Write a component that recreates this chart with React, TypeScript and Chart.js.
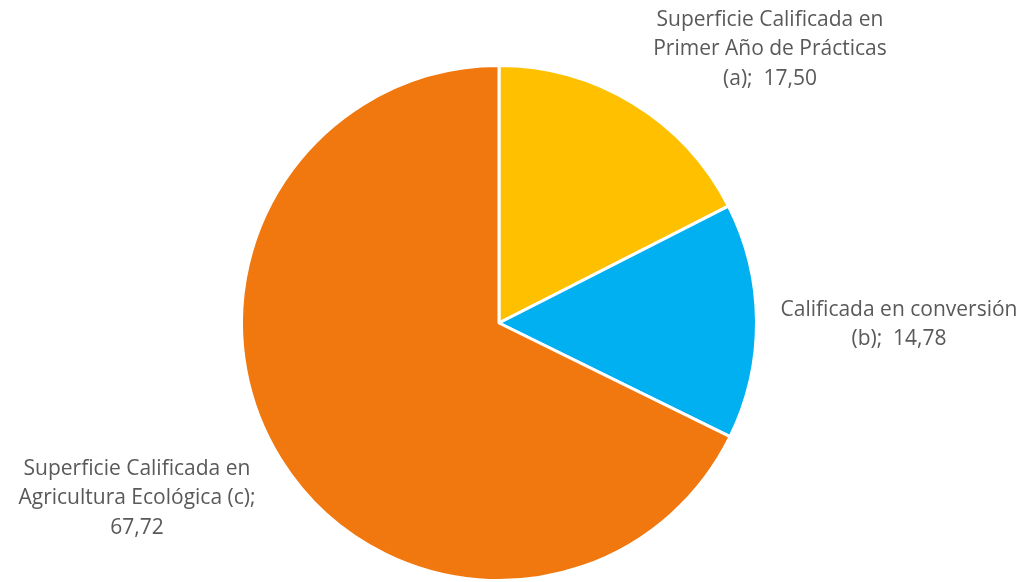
import React, { useEffect, useRef } from "react";
import { Chart, registerables } from "chart.js";

Chart.register(...registerables);

const categories = [
  "Superficie Calificada en Primer Año de Prácticas (a)",
  "Calificada en conversión (b)",
  "Superficie Calificada en Agricultura Ecológica (c)",
];
const values = [17.5, 14.78, 67.72];
const colors = ["#FFC000", "#00B0F0", "#F0780F"];
const labelLines = [
  ["Superficie Calificada en", "Primer Año de Prácticas", "(a);  17,50"],
  ["Calificada en conversión", "(b);  14,78"],
  ["Superficie Calificada en", "Agricultura Ecológica (c);", "67,72"],
];
// label anchor (center of first line) in canvas pixels
const labelAnchors = [
  { x: 770, y: 20 },
  { x: 899, y: 310 },
  { x: 137, y: 469 },
];

const labelPlugin = {
  id: "outerLabels",
  afterDraw(chart: any) {
    const ctx = chart.ctx;
    ctx.save();
    ctx.font = "21px 'Open Sans'";
    ctx.fillStyle = "#595959";
    ctx.textAlign = "center";
    ctx.textBaseline = "middle";
    labelLines.forEach((lines, i) => {
      const a = labelAnchors[i];
      lines.forEach((ln, j) => {
        ctx.fillText(ln, a.x, a.y + j * 29.5);
      });
    });
    ctx.restore();
  },
};

export default function App() {
  const ref = useRef<HTMLCanvasElement>(null);
  useEffect(() => {
    const chart = new Chart(ref.current!, {
      type: "pie",
      data: {
        labels: categories,
        datasets: [
          {
            data: values,
            backgroundColor: colors,
            borderColor: "#ffffff",
            borderWidth: 3,
          },
        ],
      },
      options: {
        animation: false,
        responsive: false,
        layout: { padding: { top: 64, bottom: 0, left: 240, right: 267 } },
        plugins: { legend: { display: false }, tooltip: { enabled: false } },
      },
      plugins: [labelPlugin],
    });
    return () => chart.destroy();
  }, []);
  return (
    <div style={{ position: "absolute", left: 0, top: 0, width: 1025, height: 582, background: "#fff" }}>
      <canvas ref={ref} width={1025} height={582} style={{ width: 1025, height: 582, display: "block" }} />
    </div>
  );
}
